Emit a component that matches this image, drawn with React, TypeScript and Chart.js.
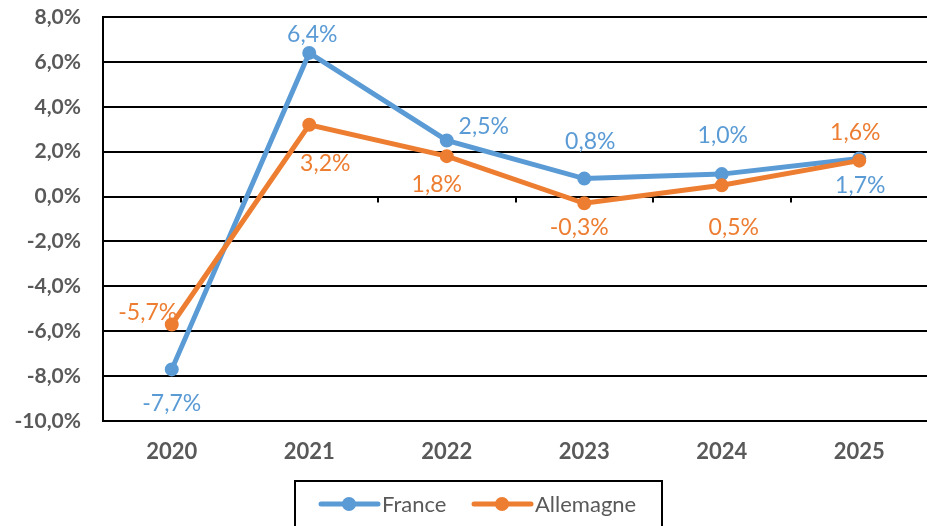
import React, { useEffect, useRef } from "react";
import { Chart, registerables } from "chart.js";

Chart.register(...registerables);

const years = ["2020", "2021", "2022", "2023", "2024", "2025"];
const franceValues = [-7.7, 6.4, 2.5, 0.8, 1.0, 1.7];
const allemagneValues = [-5.7, 3.2, 1.8, -0.3, 0.5, 1.6];
const yTickMin = -10;
const yTickMax = 8;
const yTickStep = 2;

// label offsets (px) relative to each point
const franceLabelDx = [0, 3, 37, 6, 1, 1];
const franceLabelDy = [34, -18, -14, -37, -39, 27];
const allemagneLabelDx = [-24, 16, -10, -5, 12, -4];
const allemagneLabelDy = [-12, 39, 28, 24, 42, -28];

const BLUE = "#5B9BD5";
const ORANGE = "#ED7D31";
const GREY = "#595959";
const FONT = "Lato, 'Open Sans', sans-serif";

const fmt = (v: number) => v.toFixed(1).replace(".", ",") + "%";

export default function App() {
  const ref = useRef<HTMLCanvasElement | null>(null);

  useEffect(() => {
    if (!ref.current) return;

    const decor = {
      id: "decor",
      beforeDatasetsDraw(chart: any) {
        const { ctx, chartArea, scales } = chart;
        const y0 = scales.y.getPixelForValue(0);
        const n = years.length;
        const w = (chartArea.right - chartArea.left) / n;
        ctx.save();
        ctx.strokeStyle = "#000";
        ctx.lineWidth = 2;
        for (let i = 1; i <= n; i++) {
          const x = Math.round(chartArea.left + i * w);
          ctx.beginPath();
          ctx.moveTo(x, y0);
          ctx.lineTo(x, y0 + 6);
          ctx.stroke();
        }
        ctx.restore();
      },
      afterDatasetsDraw(chart: any) {
        const { ctx } = chart;
        ctx.save();
        ctx.font = `23px ${FONT}`;
        ctx.textAlign = "center";
        ctx.textBaseline = "middle";
        const draw = (idx: number, vals: number[], dx: number[], dy: number[], color: string) => {
          const meta = chart.getDatasetMeta(idx);
          meta.data.forEach((pt: any, i: number) => {
            ctx.fillStyle = color;
            ctx.fillText(fmt(vals[i]), pt.x + dx[i], pt.y + dy[i]);
          });
        };
        draw(0, franceValues, franceLabelDx, franceLabelDy, BLUE);
        draw(1, allemagneValues, allemagneLabelDx, allemagneLabelDy, ORANGE);
        ctx.restore();
      },
      afterDraw(chart: any) {
        const { ctx } = chart;
        ctx.save();
        // legend box
        ctx.strokeStyle = "#000";
        ctx.lineWidth = 2;
        ctx.strokeRect(295, 481, 367, 60);
        const items = [
          { label: "France", color: BLUE, x: 321 },
          { label: "Allemagne", color: ORANGE, x: 474 },
        ];
        const ly = 504;
        ctx.font = `22px ${FONT}`;
        ctx.textBaseline = "middle";
        ctx.textAlign = "left";
        items.forEach((it) => {
          ctx.strokeStyle = it.color;
          ctx.lineWidth = 5;
          ctx.lineCap = "round";
          ctx.beginPath();
          ctx.moveTo(it.x, ly);
          ctx.lineTo(it.x + 57, ly);
          ctx.stroke();
          ctx.fillStyle = it.color;
          ctx.beginPath();
          ctx.arc(it.x + 28, ly, 7, 0, Math.PI * 2);
          ctx.fill();
          ctx.fillStyle = GREY;
          ctx.fillText(it.label, it.x + 61, ly + 1);
        });
        ctx.restore();
      },
    };

    const chart = new Chart(ref.current, {
      type: "line",
      data: {
        labels: years,
        datasets: [
          {
            label: "France",
            data: franceValues,
            borderColor: BLUE,
            backgroundColor: BLUE,
            borderWidth: 5,
            pointRadius: 6,
            pointBorderWidth: 2,
            pointBackgroundColor: BLUE,
            pointBorderColor: BLUE,
            order: 1,
            tension: 0,
          },
          {
            label: "Allemagne",
            data: allemagneValues,
            borderColor: ORANGE,
            backgroundColor: ORANGE,
            borderWidth: 5,
            pointRadius: 6,
            pointBorderWidth: 2,
            pointBackgroundColor: ORANGE,
            pointBorderColor: ORANGE,
            order: 0,
            tension: 0,
          },
        ],
      },
      options: {
        responsive: false,
        maintainAspectRatio: false,
        animation: false,
        layout: { padding: { top: 17, left: 0, right: 3, bottom: 0 } },
        plugins: {
          legend: { display: false },
          tooltip: { enabled: false },
        },
        scales: {
          x: {
            offset: true,
            grid: { display: false, drawTicks: false },
            border: { display: false },
            ticks: {
              color: GREY,
              font: { family: FONT, size: 22, weight: "bold" },
              padding: 18,
              maxRotation: 0,
            },
            afterFit: (s: any) => {
              s.height = 105;
              s.paddingLeft = 0;
              s.paddingRight = 0;
            },
          },
          y: {
            min: yTickMin,
            max: yTickMax,
            grid: { color: "#000", lineWidth: 2, drawTicks: false },
            border: { display: true, color: "#000", width: 2 },
            ticks: {
              stepSize: yTickStep,
              color: GREY,
              font: { family: FONT, size: 21, weight: "bold" },
              padding: 22,
              callback: (v: any) => fmt(Number(v)),
            },
            afterFit: (s: any) => {
              s.width = 103;
              s.paddingTop = 0;
              s.paddingBottom = 0;
            },
          },
        },
      },
      plugins: [decor],
    });

    return () => chart.destroy();
  }, []);

  return (
    <div
      style={{
        position: "fixed",
        left: 0,
        top: 0,
        width: 927,
        height: 526,
        overflow: "hidden",
        background: "#fff",
      }}
    >
      <canvas ref={ref} width={936} height={526} style={{ display: "block", width: 936, height: 526 }} />
    </div>
  );
}
